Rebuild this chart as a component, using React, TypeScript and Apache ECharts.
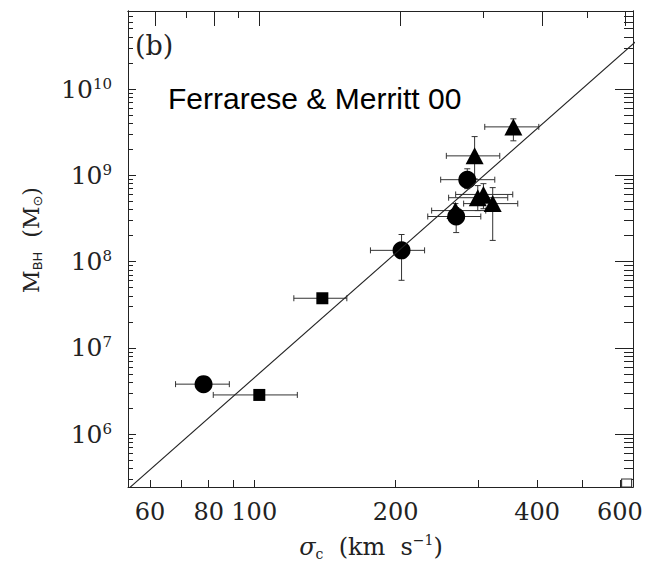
import React, { useEffect, useRef } from "react";
import * as echarts from "echarts";

// ---- data ----
const sigma = [78, 102.5, 139.6, 205.8, 269, 268, 284, 294.4, 356, 299, 307.4, 321.7];
const mass = [3.8e6, 2.85e6, 3.76e7, 1.35e8, 3.33e8, 3.9e8, 8.9e8, 1.68e9, 3.64e9, 5.5e8, 6.0e8, 4.7e8];
const sigmaLow = [68, 81.8, 121.4, 176.7, 234, 238.5, 249.3, 256.3, 309.4, 259.2, 268.3, 279];
const sigmaHigh = [88.5, 123.5, 157.4, 230.4, 303.5, 310.9, 325, 333, 403.2, 346.3, 354.9, 363.7];
const massLow = [3.4e6, 2.85e6, 3.76e7, 6.07e7, 2.17e8, 3.2e8, 7.0e8, 9.1e8, 2.51e9, 3.9e8, 4.1e8, 1.76e8];
const massHigh = [4.1e6, 2.85e6, 3.76e7, 2.06e8, 4.23e8, 4.7e8, 1.19e9, 2.81e9, 4.51e9, 7.6e8, 8.0e8, 7.2e8];
const marker = ["circle", "square", "square", "circle", "circle", "triangle", "circle", "triangle", "triangle", "triangle", "triangle", "triangle"];

const openSquareSigma = [620];
const openSquareMass = [2.72e5];

// fit line end points
const fitSigma = [52, 650];
const fitMass = [1.95e5, 3.58e10];

// axis ticks & labels
const xTickValues = [60, 70, 80, 90, 100, 200, 300, 400, 500, 600];
const xTopLong = [60, 80, 100, 200, 400, 600];
const xTopShort = [70, 90, 300, 500];
const xLabelValues = [60, 80, 100, 200, 400, 600];
const yMajor = [1e6, 1e7, 1e8, 1e9, 1e10];
const yMinorFactors = [2, 3, 4, 5, 6, 7, 8, 9];
const yDecades = [5, 6, 7, 8, 9, 10];

const X_MIN = 1.7313;
const X_MAX = 2.806;
const Y_MIN = 5.388;
const Y_MAX = 10.904;
const TOP_SHIFT = 0.0107;

const lg = (v: number) => Math.log10(v);
const INK = "#222";
const SERIF = "'DejaVu Serif', 'Liberation Serif', serif";

export default function App() {
  const ref = useRef<HTMLDivElement>(null);
  useEffect(() => {
    document.body.style.margin = "0";
    if (!ref.current) return;
    const chart = echarts.init(ref.current, null, { renderer: "svg" });

    const yMinor: number[] = [];
    yDecades.forEach((d) =>
      yMinorFactors.forEach((f) => {
        const v = lg(f) + d;
        if (v > Y_MIN && v < Y_MAX) yMinor.push(v);
      })
    );

    const errData = sigma.map((s, i) => [
      lg(s), lg(mass[i]), lg(sigmaLow[i]), lg(sigmaHigh[i]), lg(massLow[i]), lg(massHigh[i]),
    ]);
    const pts = (m: string) =>
      sigma.map((s, i) => (marker[i] === m ? [lg(s), lg(mass[i])] : null)).filter((d) => d);

    const lineStyle = { color: INK, width: 1 };
    const baseX = {
      type: "value",
      min: X_MIN,
      max: X_MAX,
      splitLine: { show: false },
      axisLine: { show: true, onZero: false, lineStyle },
    };
    const baseY = {
      type: "value",
      min: Y_MIN,
      max: Y_MAX,
      splitLine: { show: false },
      axisLine: { show: true, onZero: false, lineStyle },
    };

    chart.setOption({
      animation: false,
      backgroundColor: "#fff",
      grid: { left: 128, right: 15, top: 11, bottom: 83 },
      xAxis: [
        {
          ...baseX,
          position: "bottom",
          axisTick: { show: true, inside: true, length: 7, customValues: xTickValues.map(lg), lineStyle },
          axisLabel: {
            show: true,
            customValues: xLabelValues.map(lg),
            formatter: (v: number) => String(Math.round(Math.pow(10, v))),
            margin: 13,
            color: INK,
            fontFamily: SERIF,
            fontSize: 24,
          },
          name: "{i|σ}{sub|c}{m|  (km  s}{sup|−1}{m|)}",
          nameLocation: "middle",
          nameGap: 46,
          nameTextStyle: {
            padding: [0, 19, 0, 0],
            rich: {
              i: { fontFamily: SERIF, fontSize: 24, fontStyle: "italic", color: INK, lineHeight: 28 },
              m: { fontFamily: SERIF, fontSize: 24, color: INK, lineHeight: 28 },
              sub: { fontFamily: SERIF, fontSize: 14, color: INK, lineHeight: 14, verticalAlign: "bottom" },
              sup: { fontFamily: SERIF, fontSize: 14, color: INK, lineHeight: 14, verticalAlign: "top" },
            },
          },
        },
        {
          ...baseX,
          min: X_MIN - TOP_SHIFT,
          max: X_MAX - TOP_SHIFT,
          position: "top",
          axisTick: { show: true, inside: true, length: 15, customValues: xTopLong.map(lg), lineStyle },
          axisLabel: { show: false },
        },
        {
          ...baseX,
          min: X_MIN - TOP_SHIFT,
          max: X_MAX - TOP_SHIFT,
          position: "top",
          axisTick: { show: true, inside: true, length: 7, customValues: xTopShort.map(lg), lineStyle },
          axisLabel: { show: false },
        },
      ],
      yAxis: [
        {
          ...baseY,
          position: "left",
          axisTick: { show: true, inside: true, length: 8, customValues: yMajor.map(lg), lineStyle },
          axisLabel: {
            show: true,
            customValues: yMajor.map(lg),
            formatter: (v: number) => `{b|10}{s|${Math.round(v)}}`,
            margin: 16,
            rich: {
              b: { fontFamily: SERIF, fontSize: 25, color: INK, lineHeight: 26 },
              s: { fontFamily: SERIF, fontSize: 15, color: INK, lineHeight: 15, verticalAlign: "top" },
            },
          },
          name: "{m|M}{sub|BH}{m|  (M}{sub|⊙}{m|)}",
          nameLocation: "middle",
          nameRotate: 90,
          nameGap: 84,
          nameTextStyle: {
            padding: [0, 0, 0, 18],
            rich: {
              m: { fontFamily: SERIF, fontSize: 22, color: INK, lineHeight: 26 },
              sub: { fontFamily: "'DejaVu Sans', 'DejaVu Serif', sans-serif", fontSize: 13, color: INK, lineHeight: 14, verticalAlign: "bottom" },
            },
          },
        },
        {
          ...baseY,
          position: "left",
          axisTick: { show: true, inside: true, length: 5, customValues: yMinor, lineStyle },
          axisLabel: { show: false },
        },
        {
          ...baseY,
          position: "right",
          axisTick: { show: true, inside: true, length: 18, customValues: yMajor.map(lg), lineStyle },
          axisLabel: { show: false },
        },
        {
          ...baseY,
          position: "right",
          axisTick: { show: true, inside: true, length: 9, customValues: yMinor, lineStyle },
          axisLabel: { show: false },
        },
      ],
      graphic: [
        {
          type: "text",
          x: 135,
          y: 45,
          style: { text: "(b)", fontFamily: SERIF, fontSize: 27, fill: INK, align: "left", verticalAlign: "middle" },
        },
        {
          type: "text",
          x: 168,
          y: 98,
          style: {
            text: "Ferrarese & Merritt 00",
            fontFamily: "'Liberation Sans', Arial, sans-serif",
            fontSize: 30,
            fill: "#000",
            align: "left",
            verticalAlign: "middle",
          },
        },
      ],
      series: [
        {
          type: "line",
          xAxisIndex: 0,
          yAxisIndex: 0,
          data: fitSigma.map((s, i) => [lg(s), lg(fitMass[i])]),
          showSymbol: false,
          symbol: "none",
          clip: true,
          lineStyle: { color: INK, width: 1.1 },
          silent: true,
        },
        {
          type: "custom",
          xAxisIndex: 0,
          yAxisIndex: 0,
          encode: { x: 0, y: 1 },
          data: errData,
          renderItem: (params: any, api: any) => {
            const x = api.value(0), y = api.value(1);
            const xl = api.value(2), xh = api.value(3), yl = api.value(4), yh = api.value(5);
            const pl = api.coord([xl, y]);
            const ph = api.coord([xh, y]);
            const style = { stroke: "#333", lineWidth: 1, fill: "none" };
            const cap = 3;
            const children: any[] = [
              { type: "line", shape: { x1: pl[0], y1: pl[1], x2: ph[0], y2: ph[1] }, style },
              { type: "line", shape: { x1: pl[0], y1: pl[1] - cap, x2: pl[0], y2: pl[1] + cap }, style },
              { type: "line", shape: { x1: ph[0], y1: ph[1] - cap, x2: ph[0], y2: ph[1] + cap }, style },
            ];
            if (yh - yl > 1e-6) {
              const pb = api.coord([x, yl]);
              const pt = api.coord([x, yh]);
              children.push(
                { type: "line", shape: { x1: pb[0], y1: pb[1], x2: pt[0], y2: pt[1] }, style },
                { type: "line", shape: { x1: pb[0] - cap, y1: pb[1], x2: pb[0] + cap, y2: pb[1] }, style },
                { type: "line", shape: { x1: pt[0] - cap, y1: pt[1], x2: pt[0] + cap, y2: pt[1] }, style }
              );
            }
            return { type: "group", children };
          },
          silent: true,
        },
        {
          type: "scatter",
          data: pts("triangle"),
          symbol: "triangle",
          symbolSize: [18, 17],
          itemStyle: { color: "#000", opacity: 1 },
          silent: true,
        },
        {
          type: "scatter",
          data: pts("circle"),
          symbol: "circle",
          symbolSize: 18,
          itemStyle: { color: "#000", opacity: 1 },
          silent: true,
        },
        {
          type: "scatter",
          data: pts("square"),
          symbol: "rect",
          symbolSize: 12,
          itemStyle: { color: "#000", opacity: 1 },
          silent: true,
        },
        {
          type: "scatter",
          data: openSquareSigma.map((s, i) => [lg(s), lg(openSquareMass[i])]),
          symbol: "rect",
          symbolSize: [10, 8],
          itemStyle: { color: "#fff", borderColor: "#333", borderWidth: 1, opacity: 1 },
          silent: true,
        },
      ],
    });
    return () => chart.dispose();
  }, []);
  return <div ref={ref} style={{ width: 648, height: 570 }} />;
}
